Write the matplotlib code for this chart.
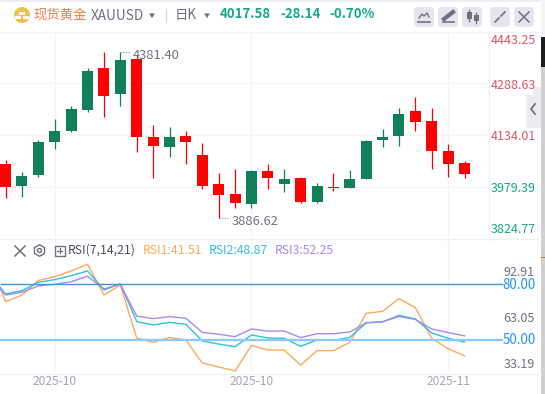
import matplotlib
matplotlib.use("Agg")
import matplotlib.pyplot as plt
from matplotlib.patches import Rectangle, FancyBboxPatch, Circle, RegularPolygon
import numpy as np

plt.rcParams['font.family'] = ['Noto Sans CJK SC', 'DejaVu Sans']

# ---- data -----
opens = [4047.7, 3983.2, 4015.9, 4113.8, 4146.5, 4208.8, 4332.6, 4256.3, 4359.3, 4127.8, 4099.0, 4130.8, 4074.4,
         3988.3, 3958.6, 3929.8, 4026.9, 3989.2, 4006.1, 3935.8, 3979.4, 3977.3, 4004.0, 4119.8, 4131.7, 4205.0,
         4175.3, 4086.2, 4050.6]
closes = [3980.3, 4012.0, 4113.0, 4145.6, 4210.9, 4323.7, 4250.4, 4356.3, 4128.7, 4102.0, 4127.8, 4113.8, 3983.2,
          3956.5, 3932.8, 4026.9, 4007.0, 4003.1, 3935.8, 3982.4, 3976.4, 4003.1, 4115.9, 4127.8, 4196.1, 4173.2,
          4087.1, 4048.5, 4017.6]
highs = [4059.5, 4023.9, 4118.9, 4181.2, 4219.8, 4331.7, 4380.1, 4381.4, 4371.2, 4163.4, 4158.4, 4145.6, 4110.0,
         4020.9, 4032.8, 4029.0, 4047.7, 4032.8, 4009.1, 3991.3, 4020.9, 4029.8, 4118.9, 4151.5, 4213.9, 4246.5,
         4213.9, 4107.0, 4056.6]
lows = [3947.6, 3950.6, 4010.0, 4093.1, 4143.5, 4202.9, 4188.0, 4220.7, 4084.2, 4007.0, 4069.3, 4048.5, 3974.3,
        3886.62, 3917.9, 3917.9, 3974.3, 3965.4, 3932.8, 3932.8, 3967.5, 3977.3, 4004.0, 4099.0, 4102.0, 4146.5,
        4033.7, 4010.0, 4007.0]
rsi1 = [93.6, 70.6, 74.2, 82.1, 84.1, 87.2, 90.8, 74.2, 79.6, 51.1, 48.7, 51.4, 50.0, 37.6, 35.5, 33.3, 47.1, 44.6,
        44.6, 36.5, 44.3, 44.3, 48.7, 64.4, 65.4, 72.3, 67.4, 50.9, 45.3, 41.51]
rsi2 = [85.4, 74.8, 76.6, 81.1, 82.5, 84.6, 87.2, 76.9, 80.3, 59.9, 58.1, 59.5, 58.4, 49.5, 47.8, 46.4, 52.7, 51.1,
        50.9, 46.6, 50.0, 49.8, 51.4, 59.2, 59.7, 63.3, 61.3, 53.8, 50.9, 48.87]
rsi3 = [84.1, 74.2, 75.7, 79.1, 80.0, 81.4, 84.3, 77.5, 80.0, 62.9, 61.5, 62.6, 61.7, 54.1, 53.1, 51.8, 55.9, 54.8,
        54.8, 51.3, 53.4, 53.4, 54.3, 59.3, 59.9, 62.6, 61.1, 55.9, 54.0, 52.25]
rsi_levels = [80.00, 50.00]
price_grid = [3979.39, 4134.01, 4288.63]
price_labels = ["4443.25", "4288.63", "4134.01", "3979.39", "3824.77"]
rsi_labels = ["92.91", "63.05", "33.19"]
date_positions = [3, 15, 27]
date_labels = ["2025-10", "2025-10", "2025-11"]
# ----------------

W, H = 545, 394
GREEN, RED = '#118058', '#ff0000'
X0, STEP = 5.6, 16.39
fig = plt.figure(figsize=(W / 100, H / 100), dpi=100, facecolor='white')


def box(x0, y0, x1, y1):
    return [x0 / W, 1 - y1 / H, (x1 - x0) / W, (y1 - y0) / H]


bg = fig.add_axes([0, 0, 1, 1], zorder=0)
bg.set_xlim(0, W); bg.set_ylim(H, 0); bg.axis('off')
top = fig.add_axes([0, 0, 1, 1], zorder=5)
top.set_xlim(0, W); top.set_ylim(H, 0); top.axis('off'); top.patch.set_alpha(0)

# panel chrome
bg.add_patch(Rectangle((0, 0), W, 2, fc='#eceef5', lw=0))
bg.add_patch(Rectangle((541, 0), 4, 37, fc='#f4f4f4', lw=0))
bg.add_patch(Rectangle((541, 37), 4, 30, fc='#1c1c1c', lw=0))
bg.add_patch(Rectangle((541, 67), 4, 327, fc='#cfcfcf', lw=0))
bg.add_patch(Rectangle((541, 257), 4, 1, fc='#c07a30', lw=0))
bg.plot([0, 541], [31.5, 31.5], color='#f2f3f7', lw=1)
bg.plot([0, 541], [238.5, 238.5], color='#eef0f4', lw=1)
bg.plot([0, 541], [373.5, 373.5], color='#eef0f4', lw=1)
bg.plot([488.5, 488.5], [32, 240], color='#f0f1f5', lw=1)

xlim = (-X0 / STEP, (488 - X0) / STEP)

# main price panel
ax = fig.add_axes(box(0, 32, 488, 238), zorder=2)
ax.patch.set_alpha(0)
ax.set_xlim(*xlim)
ax.set_ylim(3979.39 + 2.968 * (187 - 238), 3979.39 + 2.968 * (187 - 32))
for s in ax.spines.values():
    s.set_visible(False)
ax.set_yticks(price_grid)
ax.set_xticks(date_positions)
ax.tick_params(length=0, labelleft=False, labelbottom=False)
ax.grid(True, color='#f3f4f7', lw=1)
ax.set_axisbelow(True)
idx = np.arange(len(opens))
for i, o, c, h, l in zip(idx, opens, closes, highs, lows):
    col = GREEN if c >= o else RED
    ax.vlines(i, l, h, color=col, lw=0.9, zorder=3)
    ax.bar(i, max(abs(c - o), 3), bottom=min(o, c), width=11 / STEP, color=col, lw=0, zorder=4)
imax = int(np.argmax(highs)); imin = int(np.argmin(lows))
ax.annotate(f"{highs[imax]:.2f}", xy=(imax, highs[imax]), xytext=(12, -4), textcoords='offset pixels',
            color='#6f7380', fontsize=9.3, va='center', ha='left', annotation_clip=False)
ax.annotate(f"{lows[imin]:.2f}", xy=(imin, lows[imin]), xytext=(13, -3), textcoords='offset pixels',
            color='#6f7380', fontsize=9.3, va='center', ha='left', annotation_clip=False)
ax.plot([imax, imax + 0.55], [highs[imax]] * 2, color='#8a8e99', lw=0.8, ls=(0, (1, 1.4)), clip_on=False, zorder=5)
ax.plot([imin, imin + 0.55], [lows[imin]] * 2, color='#8a8e99', lw=0.8, ls=(0, (1, 1.4)), clip_on=False, zorder=5)

# RSI panel
rx = fig.add_axes(box(0, 240, 488, 373), zorder=2)
rx.patch.set_alpha(0)
rx.set_xlim(*xlim)
rx.set_ylim(50 - 33 / 1.857, 50 + 100 / 1.857)
for s in rx.spines.values():
    s.set_visible(False)
rx.set_xticks(date_positions)
rx.set_yticks([])
rx.tick_params(length=0, labelbottom=False)
rx.grid(True, axis='x', color='#f3f4f7', lw=1)
rx.set_axisbelow(True)
xr = np.arange(-1, len(rsi1) - 1)
rx.plot(xr, rsi1, color='#ffa95c', lw=1)
rx.plot(xr, rsi2, color='#2ec3dc', lw=1)
rx.plot(xr, rsi3, color='#a98be8', lw=1)
x_end = (503 - X0) / STEP
rx.hlines(rsi_levels[0], xlim[0], x_end, color='#3f94dc', lw=1, clip_on=False, zorder=6)
rx.hlines(rsi_levels[1], xlim[0], x_end, color='#8ccafc', lw=1.7, clip_on=False, zorder=6)

# date labels
for p, t in zip(date_positions, date_labels):
    top.text(X0 + STEP * p, 381.5, t, color='#a3a7b3', fontsize=8.6, ha='center', va='center')

# price labels
for t, y, c in zip(price_labels, [40, 85, 137, 188, 229],
                   ['#e0566a', '#e0566a', '#e0566a', '#16a98c', '#16a98c']):
    top.text(536, y, t, color=c, fontsize=9.0, ha='right', va='center')
for t, y in zip(rsi_labels, [272, 318, 364]):
    top.text(535, y, t, color='#6f7380', fontsize=9.0, ha='right', va='center')
for v, y in zip(rsi_levels, [285, 340]):
    top.text(536, y, f"{v:.2f}", color='#2196f3', fontsize=9.6, ha='right', va='center')

# collapse tab
top.add_patch(Rectangle((526, 95), 15, 33, fc='#ebebf1', lw=0))
top.add_patch(Rectangle((533, 87), 8, 10, fc='#ebebf1', lw=0))
top.plot([535, 531, 535], [104, 109, 114], color='#6f7380', lw=1.3)

# header
top.add_patch(Circle((22, 15), 8, fc='#f2c14e', lw=0))
for (a, b) in [(19, 11.5), (14.5, 15.5), (22.5, 15.5)]:
    top.add_patch(Rectangle((a, b), 6, 3, fc='white', lw=0))
top.text(33.5, 14.5, "现货黄金", color='#f6784f', fontsize=9.6, va='center', ha='left')
top.text(90.5, 15.5, "XAUUSD", color='#6d7180', fontsize=9.8, va='center', ha='left')
top.add_patch(RegularPolygon((152, 15), 3, radius=3.2, orientation=0, fc='#6d7180', lw=0))
top.plot([165.5, 165.5], [9, 22], color='#d5d7de', lw=1)
top.text(175, 14.5, "日K", color='#6d7180', fontsize=9.6, va='center', ha='left')
top.add_patch(RegularPolygon((207, 15), 3, radius=3.2, orientation=0, fc='#6d7180', lw=0))
for x, t in zip([220, 280, 329], ["4017.58", "-28.14", "-0.70%"]):
    top.text(x, 14, t, color='#14a88c', fontsize=9.5, fontweight='bold', va='center', ha='left')

# tool buttons
for x0 in [414, 438, 462, 490, 514]:
    top.add_patch(FancyBboxPatch((x0, 7), 20, 20, boxstyle='round,pad=0,rounding_size=4', fc='#e4e6ee', lw=0))
ic = '#6d7180'
top.plot([419, 422, 424, 427, 429], [18, 14, 16, 13, 17], color=ic, lw=1)
top.plot([418, 430], [21.5, 21.5], color=ic, lw=1.2)
top.plot([444, 453], [19, 12], color=ic, lw=3)
top.plot([443, 454], [21.5, 21.5], color=ic, lw=1.2)
for x, y0, y1, l0, l1 in [(469, 12, 19, 10, 21), (476, 15, 21, 13, 23)]:
    top.add_patch(Rectangle((x - 2.5, y0), 5, y1 - y0, fc=ic, lw=0))
    top.plot([x, x], [l0, l1], color=ic, lw=1)
top.plot([495, 499], [22, 18], color=ic, lw=1.2); top.plot([501, 505], [16, 12], color=ic, lw=1.2)
top.plot([519, 529], [12, 22], color=ic, lw=1.1); top.plot([519, 529], [22, 12], color=ic, lw=1.1)

# RSI legend row
top.plot([15, 25], [246, 256], color='#6d7180', lw=1.1); top.plot([15, 25], [256, 246], color='#6d7180', lw=1.1)
top.add_patch(RegularPolygon((39.5, 250.5), 6, radius=5.8, fc='none', ec='#6d7180', lw=1))
top.add_patch(Circle((39.5, 250.5), 2, fc='none', ec='#6d7180', lw=1))
top.add_patch(Rectangle((54.5, 245.5), 10, 10, fc='none', ec='#6d7180', lw=1))
top.plot([57, 62], [250.5, 250.5], color='#6d7180', lw=0.9); top.plot([59.5, 59.5], [248, 253], color='#6d7180', lw=0.9)
top.text(68, 250.5, "RSI(7,14,21)", color='#4b4f5c', fontsize=8.8, va='center', ha='left')
top.text(143, 250.5, f"RSI1:{rsi1[-1]:.2f}", color='#ffa95c', fontsize=8.8, va='center', ha='left')
top.text(209, 250.5, f"RSI2:{rsi2[-1]:.2f}", color='#2ec3dc', fontsize=8.8, va='center', ha='left')
top.text(275, 250.5, f"RSI3:{rsi3[-1]:.2f}", color='#a98be8', fontsize=8.8, va='center', ha='left')

fig.savefig('out.png', dpi=100, facecolor='white')
